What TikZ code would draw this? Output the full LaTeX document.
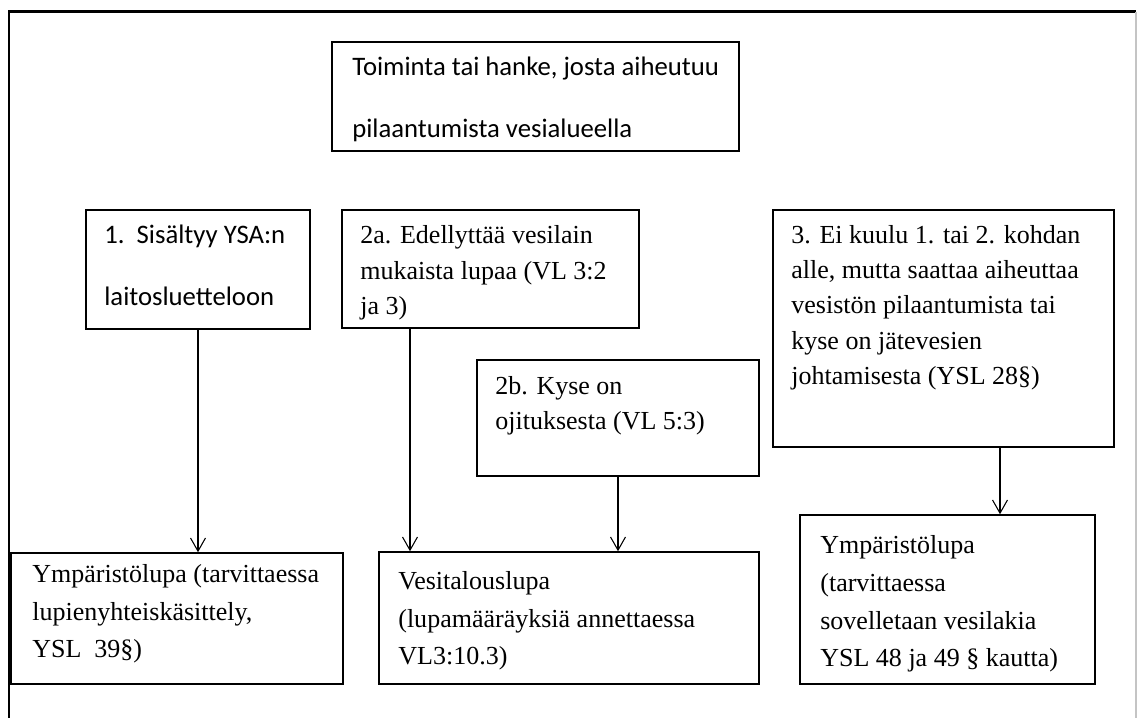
\documentclass[tikz,border=0pt]{standalone}
\usepackage{fontspec}
\setmainfont{Liberation Serif}
\newfontfamily\calibfont{Carlito}
\usetikzlibrary{arrows.meta,positioning,calc}
\usepackage{xcolor}
\definecolor{framegray}{HTML}{C4C4C4}

\begin{document}
\begin{tikzpicture}[
  every node/.style={inner sep=0pt},
  box/.style  ={draw, line width=0.85pt},
  sanstx/.style={anchor=base west, align=left,
                 font=\calibfont\fontsize{15.2}{35.3}\selectfont},
  sertx/.style ={anchor=base west, align=left,
                 font=\fontsize{14.8}{20.2}\selectfont},
  lowtx/.style ={sertx, font=\fontsize{14.8}{21.6}\selectfont},
  arr/.style  ={-{Straight Barb[length=7.5pt,width=8.5pt]}, line width=0.6pt}
]
\useasboundingbox (0,0) rectangle (22.74,-14.36);

%% ─── frame ─────────────────────────────────────────────────────────────────
\draw[line width=1.7pt] (0.18,-14.36) -- (0.18,-0.24) -- (22.72,-0.24);
\draw[framegray, line width=0.6pt] (22.72,-0.24) -- (22.72,-14.36);

%% ─── top ───────────────────────────────────────────────────────────────────
\node[box, minimum width=8.14cm, minimum height=2.18cm] (top) at (10.71,-1.93) {};
\node[sanstx] (top_tx) at (7.04,-2.76) {Toiminta tai hanke, josta aiheutuu\\pilaantumista vesialueella};

%% ─── cases 1, 2a, 2b, 3 ────────────────────────────────────────────────────
\node[box, minimum width=4.48cm, minimum height=2.38cm] (c1)  at ( 3.96,-5.39) {};
\node[box, minimum width=5.94cm, minimum height=2.36cm] (c2a) at ( 9.81,-5.38) {};
\node[box, minimum width=5.64cm, minimum height=2.32cm] (c2b) at (12.36,-8.36) {};
\node[box, minimum width=6.82cm, minimum height=4.74cm] (c3)  at (18.87,-6.57) {};

% base anchor sits on the last line
\node[sanstx] (c1_tx)  at ( 2.08,-6.12) {1.\ \ Sisältyy YSA:n\\laitosluetteloon};
\node[sertx]  (c2a_tx) at ( 7.20,-6.30) {2a. Edellyttää vesilain\\mukaista lupaa (VL 3:2\\ja 3)};
\node[sertx]  (c2b_tx) at ( 9.90,-8.60) {2b. Kyse on\\ojituksesta (VL 5:3)};
\node[sertx]  (c3_tx)  at (15.82,-7.70) {3. Ei kuulu 1. tai 2. kohdan\\alle, mutta saattaa aiheuttaa\\vesistön pilaantumista tai\\kyse on jätevesien\\johtamisesta (YSL 28§)};

%% ─── permits ───────────────────────────────────────────────────────────────
\node[box, minimum width=6.64cm, minimum height=2.62cm] (pL) at ( 3.54,-12.37) {};
\node[box, minimum width=7.60cm, minimum height=2.64cm] (pM) at (11.38,-12.36) {};
\node[box, minimum width=5.90cm, minimum height=3.38cm] (pR) at (18.95,-11.99) {};

\node[lowtx] (pL_tx) at ( 0.64,-13.16) {Ympäristölupa (tarvittaessa\\lupienyhteiskäsittely,\\YSL\ \ 39§)};
\node[lowtx] (pM_tx) at ( 7.96,-13.30) {Vesitalouslupa\\(lupamääräyksiä annettaessa\\VL3:10.3)};
\node[lowtx] (pR_tx) at (16.40,-13.34) {Ympäristölupa\\(tarvittaessa\\sovelletaan vesilakia\\YSL 48 ja 49 § kautta)};

\coordinate (c2a_out) at ([xshift=-1.61cm]c2a.south);
\coordinate (c3_out)  at ([xshift=1.13cm]c3.south);

\foreach \a/\b in {c1.south/pL, c2a_out/pM, c2b.south/pM, c3_out/pR}
  \draw[arr] (\a) -- (\a |- \b.north);

\end{tikzpicture}
\end{document}
